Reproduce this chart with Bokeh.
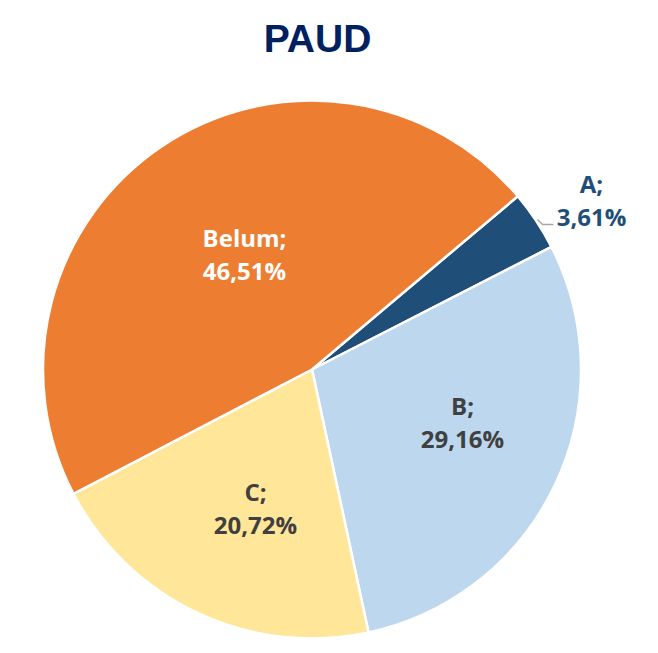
import numpy as np
from bokeh.plotting import figure
from bokeh.models import ColumnDataSource, Range1d
from bokeh.core.properties import value
from bokeh.embed import file_html
from bokeh.resources import INLINE

# data
categories = ["A", "B", "C", "Belum"]
percents = [3.61, 29.16, 20.72, 46.51]
colors = ["#1F4E79", "#BDD7EE", "#FFE699", "#ED7D31"]
label_colors = ["#1F4E79", "#404040", "#404040", "#FFFFFF"]
title_text = "PAUD"

W, H = 650, 645
p = figure(width=W, height=H, output_backend="svg", toolbar_location=None,
           x_range=Range1d(0, W), y_range=Range1d(0, H), min_border=0)
p.axis.visible = False
p.grid.visible = False
p.outline_line_color = None
p.background_fill_color = "white"

def img(x, y):
    # convert screenshot pixel coords to data coords
    return x, H - y

cx, cy = img(311.5, 369)
R = 269

vals = np.array(percents) / 100.0
start0 = np.deg2rad(40.1)
ends = start0 - 2 * np.pi * np.cumsum(vals)
starts = np.concatenate([[start0], ends[:-1]])

src = ColumnDataSource(dict(start=starts, end=ends, color=colors, cat=categories))
p.wedge(x=cx, y=cy, radius=R, start_angle="start", end_angle="end",
        direction="clock", fill_color="color", line_color="white", line_width=2.5,
        source=src)

# label positions (layout, screenshot coords)
label_pos = [(591, 199), (462, 421), (255, 507), (244, 253)]
lx, ly1, ly2, l1, l2 = [], [], [], [], []
for (x, y), c, v in zip(label_pos, categories, percents):
    X, Y = img(x, y)
    lx.append(X)
    ly1.append(Y + 16.5)
    ly2.append(Y - 16.5)
    l1.append(c + ";")
    l2.append(("%.2f" % v).replace(".", ",") + "%")
lsrc = ColumnDataSource(dict(x=lx, y1=ly1, y2=ly2, t1=l1, t2=l2, c=label_colors))
for yk, tk in (("y1", "t1"), ("y2", "t2")):
    p.text(x="x", y=yk, text=tk, source=lsrc, text_color="c",
           text_font=value("Open Sans"), text_font_style="bold",
           text_font_size="24px", text_align="center", text_baseline="middle")

# leader line for A
a1 = img(537, 219); a2 = img(542, 224); a3 = img(553, 224)
p.line(x=[a1[0], a2[0], a3[0]], y=[a1[1], a2[1], a3[1]], line_color="#A6A6A6", line_width=1.3)

# title
tx, ty = img(317, 38)
p.text(x=[tx], y=[ty], text=[title_text], text_color="#002060",
       text_font=value("Liberation Sans"), text_font_style="bold",
       text_font_size="39px", text_align="center", text_baseline="middle")

open("out.html", "w").write(file_html(p, INLINE))
